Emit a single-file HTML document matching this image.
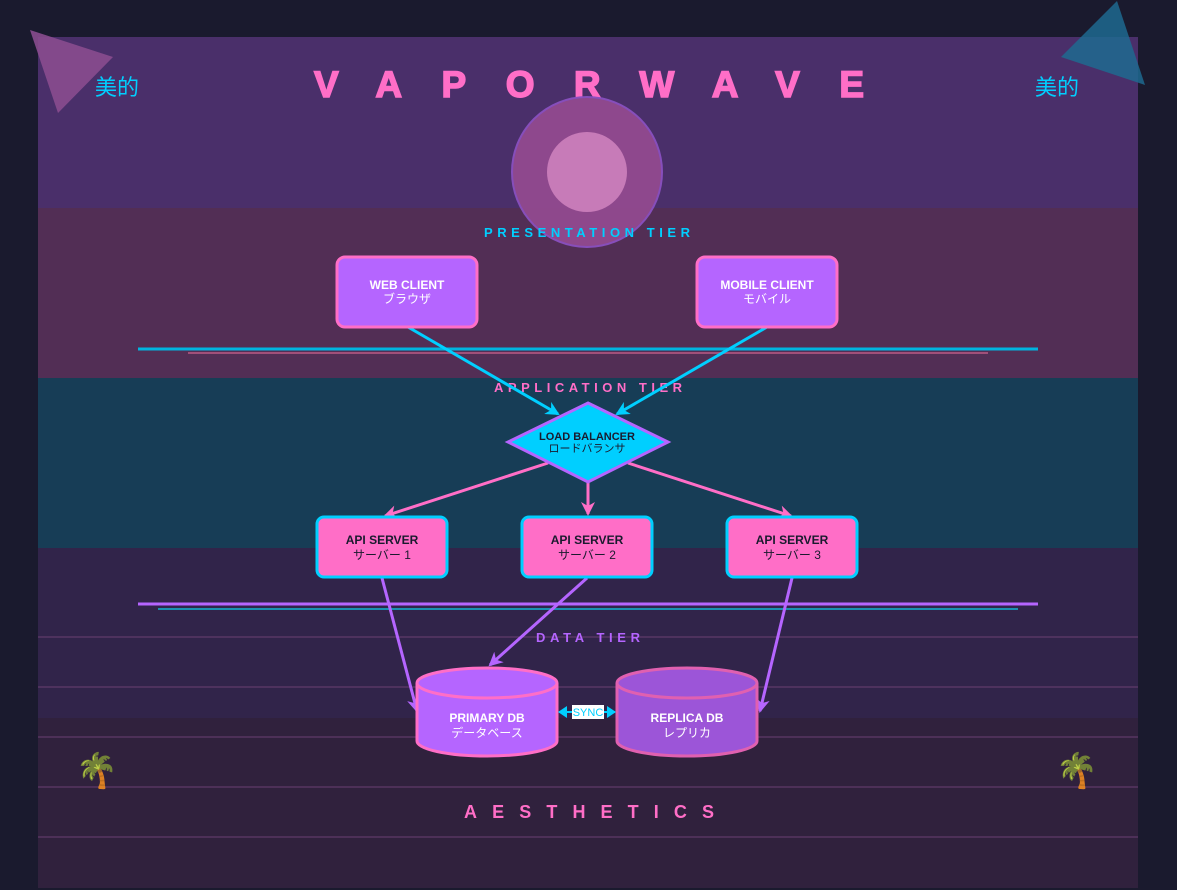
<!DOCTYPE html>
<html><head><meta charset="utf-8"><style>
html,body{margin:0;padding:0;background:#1a1a2e;}
svg{display:block;}
text{font-family:"Liberation Sans","Noto Sans CJK JP",sans-serif;}
</style></head><body>
<svg width="1177" height="890" viewBox="0 0 1177 890" xmlns="http://www.w3.org/2000/svg">
<defs>
<marker id="ac" markerWidth="14" markerHeight="14" refX="12" refY="7" orient="auto" markerUnits="userSpaceOnUse"><path d="M0,0 L14,7 L0,14 L4,7z" fill="#00cfff"/></marker>
<marker id="ap" markerWidth="14" markerHeight="14" refX="12" refY="7" orient="auto" markerUnits="userSpaceOnUse"><path d="M0,0 L14,7 L0,14 L4,7z" fill="#ff6ec7"/></marker>
<marker id="av" markerWidth="14" markerHeight="14" refX="12" refY="7" orient="auto" markerUnits="userSpaceOnUse"><path d="M0,0 L14,7 L0,14 L4,7z" fill="#b565ff"/></marker>
<marker id="sc" markerWidth="9" markerHeight="12" refX="8" refY="6" orient="auto" markerUnits="userSpaceOnUse"><path d="M0,0 L9,6 L0,12z" fill="#00cfff"/></marker>
</defs>
<rect width="1177" height="890" fill="#1a1a2e"/>
<rect x="38" y="37" width="1100" height="171" fill="#4a2f6a"/>
<rect x="38" y="208" width="1100" height="170" fill="#522e55"/>
<rect x="38" y="378" width="1100" height="170" fill="#173d56"/>
<rect x="38" y="548" width="1100" height="170" fill="#31244a"/>
<rect x="38" y="718" width="1100" height="170" fill="#30213d"/>
<g stroke="#6a3f72" stroke-width="1">
<line x1="38" y1="637" x2="1138" y2="637"/><line x1="38" y1="687" x2="1138" y2="687"/>
<line x1="38" y1="737" x2="1138" y2="737"/><line x1="38" y1="787" x2="1138" y2="787"/>
<line x1="38" y1="837" x2="1138" y2="837"/>
</g>
<polygon points="30,30 113,57 58,113" fill="#8a4c8f" opacity="0.9"/>
<polygon points="1117,1 1145,85 1061,57" fill="#1f6a8f" opacity="0.85"/>
<text x="117" y="95" font-size="22" fill="#00cfff" text-anchor="middle">美的</text>
<text x="1057" y="95" font-size="22" fill="#00cfff" text-anchor="middle">美的</text>
<text x="314" y="97" font-size="37" font-weight="bold" fill="#ff6ec7" textLength="550" lengthAdjust="spacing" stroke="#ff6ec7" stroke-width="1.5">VAPORWAVE</text>
<circle cx="587" cy="172" r="75" fill="#924a8f" stroke="#8a50c0" stroke-width="2" opacity="0.95"/>
<circle cx="587" cy="172" r="40" fill="#c77bb8"/>
<text x="484" y="237" font-size="13" font-weight="bold" fill="#00cfff" textLength="206" lengthAdjust="spacing">PRESENTATION TIER</text>
<line x1="138" y1="349" x2="1038" y2="349" stroke="#00b4e0" stroke-width="3"/>
<line x1="188" y1="353" x2="988" y2="353" stroke="#a0507a" stroke-width="2"/>
<text x="494" y="392" font-size="13" font-weight="bold" fill="#ff6ec7" textLength="188" lengthAdjust="spacing">APPLICATION TIER</text>
<line x1="138" y1="604" x2="1038" y2="604" stroke="#b565ff" stroke-width="3"/>
<line x1="158" y1="609" x2="1018" y2="609" stroke="#1a90b0" stroke-width="2"/>
<text x="536" y="642" font-size="13" font-weight="bold" fill="#b565ff" textLength="104" lengthAdjust="spacing">DATA TIER</text>
<text x="464" y="818" font-size="18" font-weight="bold" fill="#ff6ec7" textLength="250" lengthAdjust="spacing">AESTHETICS</text>
<text x="97" y="782" font-size="34" text-anchor="middle" fill="#5a9a20">🌴</text>
<text x="1077" y="782" font-size="34" text-anchor="middle" fill="#5a9a20">🌴</text>
<line x1="408" y1="327" x2="558" y2="414" stroke="#00cfff" stroke-width="3" marker-end="url(#ac)"/>
<line x1="767" y1="327" x2="617" y2="414" stroke="#00cfff" stroke-width="3" marker-end="url(#ac)"/>
<line x1="548" y1="463" x2="385" y2="516" stroke="#ff6ec7" stroke-width="3" marker-end="url(#ap)"/>
<line x1="588" y1="482" x2="588" y2="514" stroke="#ff6ec7" stroke-width="3" marker-end="url(#ap)"/>
<line x1="628" y1="463" x2="791" y2="516" stroke="#ff6ec7" stroke-width="3" marker-end="url(#ap)"/>
<line x1="382" y1="578" x2="417" y2="711" stroke="#b565ff" stroke-width="3" marker-end="url(#av)"/>
<line x1="587" y1="578" x2="490" y2="665" stroke="#b565ff" stroke-width="3" marker-end="url(#av)"/>
<line x1="792" y1="578" x2="760" y2="711" stroke="#b565ff" stroke-width="3" marker-end="url(#av)"/>
<rect x="337" y="257" width="140" height="70" rx="8" fill="#b565ff" stroke="#ff6ec7" stroke-width="3"/>
<text x="407" y="289" font-size="12" font-weight="bold" fill="#fff" text-anchor="middle">WEB CLIENT</text>
<text x="407" y="303" font-size="12" fill="#fff" text-anchor="middle">ブラウザ</text>
<rect x="697" y="257" width="140" height="70" rx="8" fill="#b565ff" stroke="#ff6ec7" stroke-width="3"/>
<text x="767" y="289" font-size="12" font-weight="bold" fill="#fff" text-anchor="middle">MOBILE CLIENT</text>
<text x="767" y="303" font-size="12" fill="#fff" text-anchor="middle">モバイル</text>
<polygon points="588,403 668,442 588,482 508,442" fill="#00cfff" stroke="#b565ff" stroke-width="3"/>
<text x="587" y="440" font-size="11" font-weight="bold" fill="#1a1a2e" text-anchor="middle">LOAD BALANCER</text>
<text x="587" y="452" font-size="11" fill="#1a1a2e" text-anchor="middle">ロードバランサ</text>
<g font-size="12">
<rect x="317" y="517" width="130" height="60" rx="7" fill="#ff6ec7" stroke="#00cfff" stroke-width="3"/>
<text x="382" y="544" font-weight="bold" fill="#1a1a2e" text-anchor="middle">API SERVER</text>
<text x="382" y="559" fill="#1a1a2e" text-anchor="middle">サーバー 1</text>
<rect x="522" y="517" width="130" height="60" rx="7" fill="#ff6ec7" stroke="#00cfff" stroke-width="3"/>
<text x="587" y="544" font-weight="bold" fill="#1a1a2e" text-anchor="middle">API SERVER</text>
<text x="587" y="559" fill="#1a1a2e" text-anchor="middle">サーバー 2</text>
<rect x="727" y="517" width="130" height="60" rx="7" fill="#ff6ec7" stroke="#00cfff" stroke-width="3"/>
<text x="792" y="544" font-weight="bold" fill="#1a1a2e" text-anchor="middle">API SERVER</text>
<text x="792" y="559" fill="#1a1a2e" text-anchor="middle">サーバー 3</text>
</g>
<path d="M417,683 L417,741 A70,15 0 0 0 557,741 L557,683" fill="#b565ff" stroke="#ff6ec7" stroke-width="3"/>
<ellipse cx="487" cy="683" rx="70" ry="15" fill="#b565ff" stroke="#ff6ec7" stroke-width="3"/>
<text x="487" y="722" font-size="12" font-weight="bold" fill="#fff" text-anchor="middle">PRIMARY DB</text>
<text x="487" y="737" font-size="12" fill="#fff" text-anchor="middle">データベース</text>
<path d="M617,683 L617,741 A70,15 0 0 0 757,741 L757,683" fill="#9c55d8" stroke="#e060b0" stroke-width="3"/>
<ellipse cx="687" cy="683" rx="70" ry="15" fill="#9c55d8" stroke="#e060b0" stroke-width="3"/>
<text x="687" y="722" font-size="12" font-weight="bold" fill="#fff" text-anchor="middle">REPLICA DB</text>
<text x="687" y="737" font-size="12" fill="#fff" text-anchor="middle">レプリカ</text>
<line x1="568" y1="712" x2="559" y2="712" stroke="#00cfff" stroke-width="2" marker-end="url(#sc)"/>
<line x1="606" y1="712" x2="615" y2="712" stroke="#00cfff" stroke-width="2" marker-end="url(#sc)"/>
<line x1="562" y1="712" x2="612" y2="712" stroke="#00cfff" stroke-width="2"/>
<rect x="572" y="705" width="32" height="14" fill="#fff"/>
<text x="588" y="716" font-size="11" fill="#00cfff" text-anchor="middle">SYNC</text>
</svg>
</body></html>
